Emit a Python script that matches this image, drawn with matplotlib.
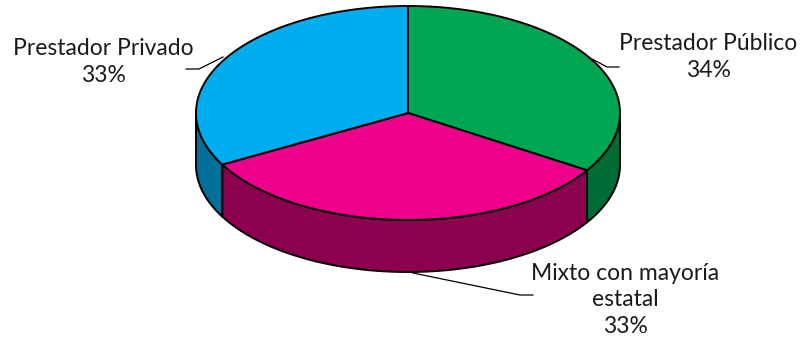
import numpy as np
import matplotlib.pyplot as plt
from matplotlib.patches import Polygon

labels = ["Prestador Público", "Mixto con mayoría\nestatal", "Prestador Privado"]
values = [34, 33, 33]
top_colors = ["#00A651", "#EC008C", "#00AEEF"]
side_colors = ["#006B35", "#8C0050", "#00709A"]

plt.rcParams['font.family'] = ['Lato', 'DejaVu Sans']

fig = plt.figure(figsize=(8.03, 3.42), dpi=100)
ax = fig.add_axes([0, 0, 1, 1])
ax.set_xlim(0, 803)
ax.set_ylim(342, 0)
ax.axis('off')

# ellipse geometry in pixel space
cx, cy = 408, 113
a, b = 212, 107
depth = 52


def pt(theta, dz=0):
    return cx + a * np.cos(theta), cy - b * np.sin(theta) + dz


# angles: start at 90 deg, go clockwise
fracs = np.array(values) / np.sum(values)
bounds = np.pi / 2 - 2 * np.pi * np.concatenate([[0], np.cumsum(fracs)])

# side walls (front half only: angles in [-pi, 0])
for i in range(len(values)):
    t0, t1 = bounds[i + 1], bounds[i]
    lo = max(t0, -np.pi)
    hi = min(t1, 0)
    if lo >= hi:
        lo2, hi2 = max(t0 + 2 * np.pi, -np.pi), min(t1 + 2 * np.pi, 0)
        if lo2 < hi2:
            lo, hi = lo2, hi2
        else:
            continue
    th = np.linspace(lo, hi, 80)
    xs, ys = pt(th)
    xb, yb = pt(th[::-1], depth)
    poly = np.column_stack([np.concatenate([xs, xb]), np.concatenate([ys, yb])])
    ax.add_patch(Polygon(poly, closed=True, facecolor=side_colors[i],
                         edgecolor='black', lw=1.4, joinstyle='round'))

# top faces
for i in range(len(values)):
    th = np.linspace(bounds[i], bounds[i + 1], 200)
    xs, ys = pt(th)
    poly = np.column_stack([np.concatenate([[cx], xs]), np.concatenate([[cy], ys])])
    ax.add_patch(Polygon(poly, closed=True, facecolor=top_colors[i],
                         edgecolor='black', lw=1.4, joinstyle='round'))

# labels and leader lines
fs = 16.5
kw = dict(ha='center', va='center', fontsize=fs, color='#1a1a1a',
          linespacing=1.35)
ax.text(708, 57, f"{labels[0]}\n{values[0]}%", **kw)
ax.plot([592, 607, 619], [59, 67, 67], color='black', lw=0.9)

ax.text(103, 62, f"{labels[2]}\n{values[2]}%", **kw)
ax.plot([186, 199, 223], [69, 69, 57], color='black', lw=0.9)

ax.text(625, 300, f"{labels[1]}\n{values[1]}%", **kw)
ax.plot([413, 520, 533], [273, 295, 295], color='black', lw=0.9)

fig.savefig("out.png", dpi=100)
